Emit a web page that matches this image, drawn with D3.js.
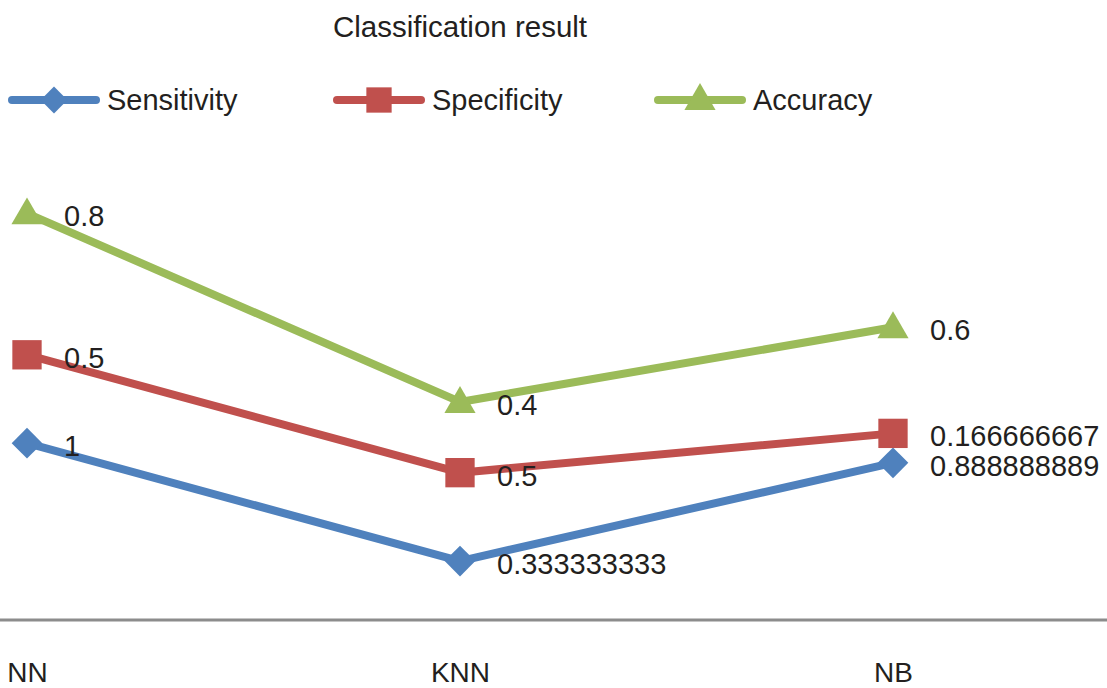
<!DOCTYPE html>
<html>
<head>
<meta charset="utf-8">
<script src="https://cdn.jsdelivr.net/npm/d3@7"></script>
<style>
  html, body { margin: 0; padding: 0; background: #fff; }
  svg text { font-family: "Liberation Sans", Arial, Helvetica, sans-serif; fill: #231f20; }
</style>
</head>
<body>
<div id="chart"></div>
<script>
// chart data
var categories = ["NN", "KNN", "NB"];
var seriesNames = ["Sensitivity", "Specificity", "Accuracy"];
var sensitivity = [1, 0.333333333, 0.888888889];
var specificity = [0.5, 0.5, 0.166666667];
var accuracy = [0.8, 0.4, 0.6];
var titleText = "Classification result";

var colors = ["#4f81bd", "#c0504d", "#9bbb59"];
var shapes = [d3.symbolSquare, d3.symbolSquare, d3.symbolTriangle];
var rotate = [45, 0, 0];
var markerSize = [470, 860, 420];

var width = 1107, height = 688;

var svg = d3.select("#chart").append("svg")
    .attr("width", width)
    .attr("height", height);

// rows for the stack layout (stacked line, like the source chart)
var rows = categories.map(function(c, i) {
    return { cat: c, Sensitivity: sensitivity[i], Specificity: specificity[i], Accuracy: accuracy[i] };
});
var stacked = d3.stack().keys(seriesNames)(rows);

var x = d3.scalePoint()
    .domain(categories)
    .range([27, 893]);

var y = d3.scaleLinear()
    .domain([0, 2.5])
    .range([620, 178]);

// title
svg.append("text")
    .attr("x", x("KNN"))
    .attr("y", 37)
    .attr("text-anchor", "middle")
    .style("font-size", "29.5px")
    .text(titleText);

// legend
var legendX = [12, 337, 658];
var legend = svg.selectAll(".legend")
    .data(seriesNames)
    .enter().append("g")
    .attr("class", "legend")
    .attr("transform", function(d, i) { return "translate(" + legendX[i] + ",100)"; });

legend.append("line")
    .attr("x1", 0).attr("x2", 84)
    .attr("y1", 0).attr("y2", 0)
    .attr("stroke", function(d, i) { return colors[i]; })
    .attr("stroke-width", 8)
    .attr("stroke-linecap", "round");

legend.append("path")
    .attr("transform", function(d, i) { return "translate(42," + (i == 2 ? 1 : 0) + ") rotate(" + rotate[i] + ")"; })
    .attr("d", function(d, i) { return d3.symbol().type(shapes[i]).size(i == 0 ? 360 : (i == 1 ? 640 : 420))(); })
    .attr("fill", function(d, i) { return colors[i]; });

legend.append("text")
    .attr("x", 95)
    .attr("y", 10)
    .style("font-size", "29px")
    .text(function(d) { return d; });

// axis line
var xAxis = d3.axisBottom(x).tickSize(0).tickPadding(34);
var axisG = svg.append("g")
    .attr("class", "x-axis")
    .attr("transform", "translate(0,620)")
    .call(xAxis);
axisG.select(".domain").remove();
axisG.append("line")
    .attr("x1", 0).attr("x2", width)
    .attr("stroke", "#8c8c8c")
    .attr("stroke-width", 3);
axisG.selectAll(".tick text")
    .attr("dy", null)
    .attr("y", 62)
    .style("font-size", "28px")
    .style("font-family", "'Liberation Sans', Arial, sans-serif")
    .attr("fill", "#231f20");

// lines
var line = d3.line()
    .x(function(d) { return x(d.data.cat); })
    .y(function(d) { return y(d[1]); });

var series = svg.selectAll(".series")
    .data(stacked)
    .enter().append("g")
    .attr("class", "series");

series.append("path")
    .attr("d", line)
    .attr("fill", "none")
    .attr("stroke", function(d, i) { return colors[i]; })
    .attr("stroke-width", 8)
    .attr("stroke-linejoin", "round");

series.selectAll(".marker")
    .data(function(d, i) { return d.map(function(p) { return { p: p, s: i }; }); })
    .enter().append("path")
    .attr("class", "marker")
    .attr("transform", function(d) {
        return "translate(" + x(d.p.data.cat) + "," + (y(d.p[1]) + (d.s == 2 ? 2 : 0)) + ") rotate(" + rotate[d.s] + ")";
    })
    .attr("d", function(d) { return d3.symbol().type(shapes[d.s]).size(markerSize[d.s])(); })
    .attr("fill", function(d) { return colors[d.s]; });

// value labels (the individual values, not the stacked totals)
series.selectAll(".val")
    .data(function(d, i) { return d.map(function(p) { return { p: p, key: d.key }; }); })
    .enter().append("text")
    .attr("class", "val")
    .attr("x", function(d) { return x(d.p.data.cat) + 37; })
    .attr("y", function(d) { return y(d.p[1]) + 13; })
    .style("font-size", "29px")
    .text(function(d) { return String(+d.p.data[d.key].toPrecision(9)); });
</script>
</body>
</html>
